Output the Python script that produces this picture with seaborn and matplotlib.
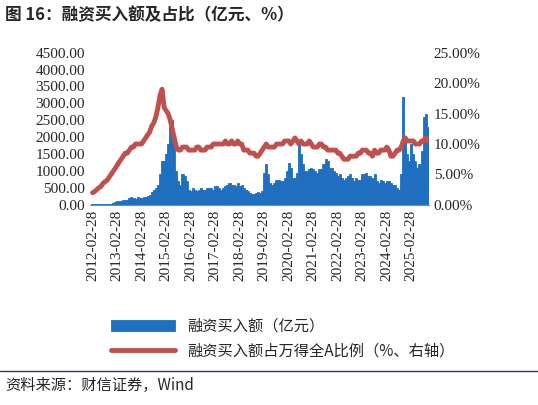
import matplotlib
matplotlib.use("Agg")
import matplotlib.pyplot as plt
import seaborn as sns
import pandas as pd
import numpy as np
from matplotlib.ticker import FuncFormatter

sns.set_style("white")
plt.rcParams['font.family'] = ['Liberation Serif', 'Noto Sans CJK SC']

# monthly estimates 2012-02 .. 2025-10
buy = [
 20,30,30,40,40,30,30,30,30,40,60,
 90,110,120,120,140,150,160,200,220,200,180,220,
 200,200,220,230,250,280,380,450,500,600,900,1300,
 1300,1500,1800,2300,2500,2000,1000,700,600,900,850,700,
 450,400,500,450,400,450,500,450,450,500,500,500,
 450,550,550,500,450,500,550,600,650,600,600,550,
 650,550,600,500,450,400,350,330,330,350,380,350,
 400,950,1200,900,650,600,650,750,750,700,700,800,
 1000,1250,1100,800,800,950,1900,1500,1200,1000,1000,1050,
 1100,1050,1000,950,1050,1050,1200,1350,1300,1100,1100,1000,
 950,850,900,800,750,800,850,900,800,700,800,750,
 750,900,900,950,850,850,800,900,700,650,750,700,
 650,700,700,650,600,600,500,450,900,3200,2000,1500,
 1300,1800,1500,1300,1100,1200,1600,2600,2700,2300
]
ratio = [
 2.0,2.2,2.5,2.8,3.0,3.5,3.8,4.0,4.5,5.0,5.5,
 6.0,6.5,7.0,7.5,8.0,8.5,8.5,9.0,9.5,9.5,10.0,10.0,
 10.0,10.0,10.5,11.0,11.5,12.0,13.0,13.5,14.5,16.0,18.0,19.0,
 16.0,15.5,15.0,14.0,12.5,11.0,9.5,9.0,9.0,9.5,9.5,9.5,
 9.0,9.0,9.0,9.0,9.5,9.5,9.0,9.0,9.0,9.5,9.5,9.5,
 10.0,10.0,10.0,10.0,10.0,10.0,10.5,10.0,10.0,10.5,10.0,10.0,
 10.5,10.0,10.0,9.0,9.0,9.0,8.5,8.5,8.5,8.0,8.0,8.5,
 9.0,9.5,10.0,9.5,9.5,9.5,9.5,10.0,10.0,10.0,10.0,10.5,
 10.5,10.5,10.0,10.5,11.0,10.5,10.0,10.5,10.0,10.0,10.0,10.5,
 10.0,9.5,9.5,9.5,10.0,10.0,9.5,9.5,9.0,9.0,9.0,9.0,
 9.0,8.5,8.5,8.0,7.5,7.5,7.5,8.0,8.0,8.0,8.0,8.5,
 8.5,9.0,9.0,9.0,8.5,8.5,8.0,9.0,8.5,8.5,9.0,9.0,
 9.0,9.5,9.0,8.0,8.0,8.5,9.0,9.0,9.5,10.5,11.0,10.5,
 10.5,10.5,10.5,10.0,10.0,10.0,10.5,10.5,11.0,10.5
]
dates = pd.date_range("2012-02-28", periods=len(buy), freq="ME")
df = pd.DataFrame({"date": dates, "buy": buy, "ratio": ratio})

fig = plt.figure(figsize=(5.38, 4.05), dpi=100)
ax = fig.add_axes([0.167, 0.494, 0.63, 0.376])
ax.bar(df["date"], df["buy"], width=31, color="#1f6fc0", edgecolor="#1f6fc0",
       linewidth=0.6, label="融资买入额（亿元）")
ax2 = ax.twinx()
sns.lineplot(data=df, x="date", y="ratio", ax=ax2, color="#c0504d", linewidth=3.5,
             label="融资买入额占万得全A比例（%、右轴）", legend=False)
ax.set_ylim(0, 4500); ax.set_yticks(np.arange(0, 4501, 500))
ax.yaxis.set_major_formatter(FuncFormatter(lambda v, p: f"{v:.2f}"))
ax2.set_ylim(0, 25); ax2.set_yticks(np.arange(0, 26, 5))
ax2.yaxis.set_major_formatter(FuncFormatter(lambda v, p: f"{v:.2f}%"))
ax2.set_ylabel(""); ax.set_xlabel(""); ax2.set_xlabel("")
ticks = pd.to_datetime([f"{y}-02-28" for y in range(2012, 2026)])
ax.set_xticks(ticks)
ax.set_xticklabels([t.strftime("%Y-%m-%d") for t in ticks], rotation=90, fontsize=10.5)
ax.set_xlim(pd.Timestamp("2012-01-20"), pd.Timestamp("2025-11-15"))
for a in (ax, ax2):
    a.tick_params(labelsize=11, length=0)
    for s in a.spines.values():
        s.set_visible(False)
ax.spines["bottom"].set_visible(True); ax.spines["bottom"].set_color("#888888")

h1, l1 = ax.get_legend_handles_labels()
h2, l2 = ax2.get_legend_handles_labels()
fig.legend(h1 + h2, l1 + l2, loc="upper left", bbox_to_anchor=(0.18, 0.25),
           frameon=False, handlelength=4.2,
           prop={'family': ['Noto Sans CJK SC'], 'size': 11})

fig.text(0.01, 0.985, "图 16：融资买入额及占比（亿元、%）", fontsize=12, fontweight="bold",
         va="top", family=['Noto Sans CJK SC'])
fig.add_artist(plt.Line2D([0.0, 1.0], [0.085, 0.085], color="#1f3a6e", lw=1))
fig.text(0.01, 0.07, "资料来源：财信证券，Wind", fontsize=11, style="italic",
         va="top", family=['Noto Sans CJK SC'])
fig.savefig("out.png", dpi=100)
